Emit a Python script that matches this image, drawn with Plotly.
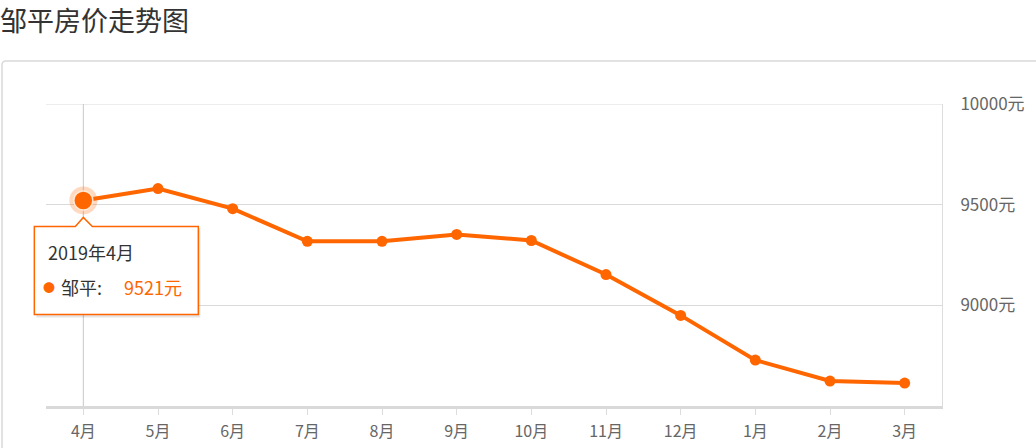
import plotly.graph_objects as go

# ---- data ----
months = ["4月", "5月", "6月", "7月", "8月", "9月", "10月", "11月", "12月", "1月", "2月", "3月"]
prices = [9521, 9580, 9480, 9318, 9318, 9352, 9322, 9153, 8950, 8728, 8624, 8614]
series_name = "邹平"
title_text = "邹平房价走势图"
tooltip_period = "2019年4月"
y_ticks = [9000, 9500, 10000]
y_range = [8500, 10000]
hover_index = 0

ORANGE = "#ff6600"
FONT = "Noto Sans CJK SC"

W, H = 1036, 448
L, R, T, B = 46, 94, 104, 42
PW, PH = W - L - R, H - T - B


def px(x):
    return (x - L) / PW


def py(y):
    return (H - B - y) / PH


fig = go.Figure()

fig.add_trace(go.Scatter(
    x=months, y=prices, mode="lines+markers",
    line=dict(color=ORANGE, width=4),
    marker=dict(size=11, color=ORANGE),
    hoverinfo="skip", showlegend=False,
))
# highlighted (hovered) point
hx, hy = months[hover_index], prices[hover_index]
fig.add_trace(go.Scatter(
    x=[hx], y=[hy], mode="markers",
    marker=dict(size=28, color="rgba(255,102,0,0.25)"),
    hoverinfo="skip", showlegend=False,
))
fig.add_trace(go.Scatter(
    x=[hx], y=[hy], mode="markers",
    marker=dict(size=19, color=ORANGE, line=dict(color="rgba(255,240,225,0.9)", width=1.5)),
    hoverinfo="skip", showlegend=False,
))

# hovered point position in paper fractions (through the axis scales)
ax_paper = (hover_index + 0.5) / len(months)
ay_paper = (hy - y_range[0]) / (y_range[1] - y_range[0])

shapes = []
# card border
r = 4
card = (f"M {px(2)},{py(470)} L {px(2)},{py(61 + r)} "
        f"Q {px(2)},{py(61)} {px(2 + r)},{py(61)} L {px(1045)},{py(61)}")
shapes.append(dict(type="path", xref="paper", yref="paper", path=card,
                   line=dict(color="#d9d9d9", width=1.5), layer="below"))
# top grid line
shapes.append(dict(type="line", xref="paper", yref="y", x0=0, x1=1,
                   y0=y_range[1], y1=y_range[1],
                   line=dict(color="#dadada", width=1), layer="between"))
# crosshair
shapes.append(dict(type="line", xref="x", yref="y", x0=hx, x1=hx,
                   y0=y_range[0], y1=y_range[1],
                   line=dict(color="#c8c8c8", width=1), layer="between"))
# tooltip box (pixels relative to the hovered point)
tip = "M -49,-26 L -8,-26 L 0,-17 L 9,-26 L 115,-26 L 115,-114 L -49,-114 Z"
shadow = "M -47,-28 L 117,-28 L 117,-117 L -47,-117 Z"
for p, fc, ln in [(shadow, "rgba(0,0,0,0.10)", dict(width=0)),
                  (tip, "white", dict(color=ORANGE, width=1.5))]:
    shapes.append(dict(type="path", xref="paper", yref="paper",
                       xsizemode="pixel", ysizemode="pixel",
                       xanchor=ax_paper, yanchor=ay_paper, path=p,
                       fillcolor=fc, line=ln, layer="above"))
fig.update_layout(shapes=shapes)

ann = []
ann.append(dict(xref="paper", yref="paper", x=px(-2), y=py(19), text=title_text,
                showarrow=False, xanchor="left", yanchor="middle",
                font=dict(family=FONT, size=27, color="#333333")))
common = dict(xref="x", yref="y", x=hx, y=hy, showarrow=False, yanchor="middle")
ann.append(dict(**common, text=tooltip_period, xshift=-37, yshift=-52, xanchor="left",
                font=dict(family=FONT, size=18, color="#333333")))
ann.append(dict(**common, text="●", xshift=-34, yshift=-87, xanchor="center",
                font=dict(family=FONT, size=12, color=ORANGE)))
ann.append(dict(**common, text=f"{series_name}:", xshift=-24, yshift=-87, xanchor="left",
                font=dict(family=FONT, size=18, color="#333333")))
ann.append(dict(**common, text=f"{hy}元", xshift=39, yshift=-87, xanchor="left",
                font=dict(family=FONT, size=18, color=ORANGE)))
fig.update_layout(annotations=ann)

fig.update_layout(
    width=W, height=H,
    margin=dict(l=L, r=R, t=T, b=B, pad=0, autoexpand=False),
    paper_bgcolor="white", plot_bgcolor="white",
    font=dict(family=FONT, color="#666666"),
    xaxis=dict(
        type="category", range=[-0.5, len(months) - 0.5], automargin=False,
        showgrid=False, zeroline=False,
        showline=True, linecolor="#d9d9d9", linewidth=3,
        ticks="outside", ticklen=6, tickwidth=1, tickcolor="#dddddd",
        tickfont=dict(family=FONT, size=16, color="#666666"),
        ticklabelstandoff=3,
    ),
    yaxis=dict(
        side="right", range=y_range, automargin=False,
        tickvals=y_ticks, ticktext=[f"{v}元" for v in y_ticks],
        showgrid=True, gridcolor="#dadada", gridwidth=1, zeroline=False,
        showline=True, linecolor="#dddddd", linewidth=1,
        ticks="", tickfont=dict(family=FONT, size=17, color="#666666"),
        ticklabelstandoff=14,
    ),
)

fig.write_html("out.html", config={"displayModeBar": False},
               post_script="document.body.style.margin='0';")
